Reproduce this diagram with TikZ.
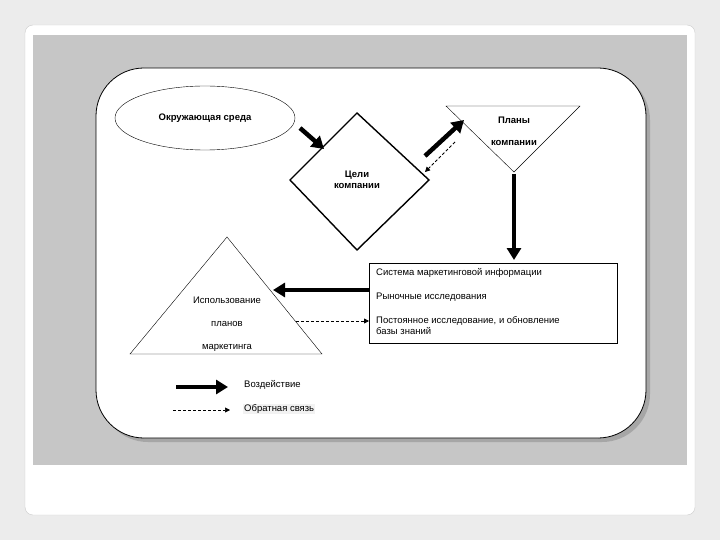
\documentclass[tikz,border=0pt]{standalone}
\usepackage{fontspec}
\setmainfont{Liberation Sans}
\usetikzlibrary{arrows.meta,shapes.geometric}
\begin{document}
\begin{tikzpicture}[x=1pt,y=-1pt,
  thick arrow/.style={line width=4.5pt,-{Triangle[length=12pt,width=14pt]}},
  fb arrow/.style={densely dashed,line width=0.8pt,-{Triangle[length=5pt,width=5pt]}},
  txt/.style={font=\fontsize{9.5}{11}\selectfont,inner sep=1pt},
  btxt/.style={font=\bfseries\fontsize{9.5}{11}\selectfont,inner sep=1pt}]
\useasboundingbox (0,0) rectangle (720,540);
\fill[gray!15] (0,0) rectangle (720,540);
\draw[fill=white,draw=gray!40,rounded corners=8pt] (25,25) rectangle (695,515);
\fill[gray!45] (33,35) rectangle (687,465);
\fill[gray!70,rounded corners=48pt] (100,72) rectangle (650,442);
\draw[fill=white,line width=0.8pt,rounded corners=48pt] (96,68) rectangle (646,438);
% ellipse
\node[draw,ellipse,minimum width=180pt,minimum height=64pt,btxt] (env) at (205,118) {Окружающая среда};
% diamond
\draw[line width=1.4pt] (357,113) -- (429,180) -- (357,250) -- (290,180) -- cycle;
\node[btxt,align=center] (goals) at (357,180) {Цели\\компании};
% inverted triangle
\draw (446,106) -- (580,106) -- (514,172) -- cycle;
\node[btxt] (plans) at (514,120) {Планы};
\node[btxt] (plans2) at (514,143) {компании};
% box
\node[draw,minimum width=248pt,minimum height=80pt,anchor=north west] (box) at (369,263) {};
\node[txt,anchor=west] (s1) at (375,273) {Система маркетинговой информации};
\node[txt,anchor=west] (s2) at (375,297) {Рыночные исследования};
\node[txt,anchor=west,align=left] (s3) at (375,326) {Постоянное исследование, и обновление\\базы знаний};
% triangle
\draw (227,237) -- (322,354) -- (130,354) -- cycle;
\node[txt] (u1) at (227,300) {Использование};
\node[txt] (u2) at (227,324) {планов};
\node[txt] (u3) at (227,348) {маркетинга};
% connectors
\coordinate (a1) at (300,128); \coordinate (a2) at (324,149);
\draw[thick arrow] (a1) -- (a2);
\coordinate (b1) at (425,156); \coordinate (b2) at (464,120);
\draw[thick arrow] (b1) -- (b2);
\coordinate (c1) at (455,142); \coordinate (c2) at (425,172);
\draw[fb arrow] (c1) -- (c2);
\coordinate (d1) at (514,174); \coordinate (d2) at (514,260);
\draw[thick arrow] (d1) -- (d2);
\coordinate (e1) at (369,290); \coordinate (e2) at (273,290);
\draw[thick arrow] (e1) -- (e2);
\coordinate (f1) at (296,321); \coordinate (f2) at (369,321);
\draw[fb arrow] (f1) -- (f2);
% legend
\coordinate (l1) at (176,387); \coordinate (l2) at (228,387);
\draw[thick arrow] (l1) -- (l2);
\node[txt,anchor=west] (lt1) at (243,385) {Воздействие};
\coordinate (m1) at (173,410); \coordinate (m2) at (230,410);
\draw[fb arrow,line width=0.6pt] (m1) -- (m2);
\node[txt,anchor=west,fill=gray!10] (lt2) at (243,409) {Обратная связь};
\end{tikzpicture}
\end{document}
